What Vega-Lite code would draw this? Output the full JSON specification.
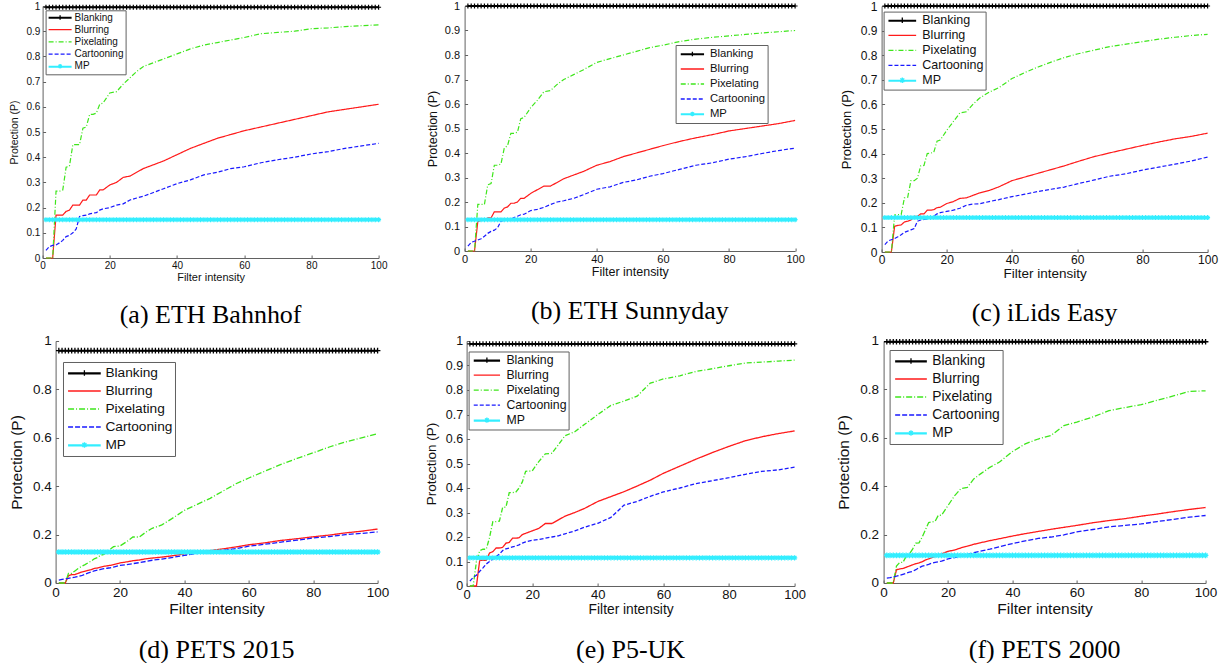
{
  "$schema": "https://vega.github.io/schema/vega-lite/v6.json",
  "background": "white",
  "padding": {"left": 8.6, "top": 0, "right": 0, "bottom": 0},
  "config": {
    "view": {"stroke": null},
    "axis": {
      "domainColor": "#606060", "tickColor": "#606060", "domainWidth": 1, "tickWidth": 1,
      "tickSize": -3, "grid": false, "labelFlush": false, "labelOverlap": false,
      "labelFont": "Liberation Sans", "titleFont": "Liberation Sans", "titleFontWeight": "normal",
      "labelColor": "#111", "titleColor": "#111"
    },
    "legend": {
      "strokeColor": "#606060", "fillColor": "#ffffff", "labelFont": "Liberation Sans",
      "labelColor": "#111", "rowPadding": 0, "symbolStrokeWidth": 1.3, "cornerRadius": 0, "labelLimit": 300
    },
    "title": {
      "font": "Liberation Serif", "fontSize": 26, "fontWeight": "normal", "color": "#000",
      "orient": "bottom", "anchor": "middle", "offset": 20
    }
  },
  "datasets": {
    "grid": [
      {"x":1,"k":0},{"x":2,"k":0},{"x":3,"k":0},{"x":4,"k":0},{"x":5,"k":0},{"x":6,"k":0},{"x":7,"k":0},{"x":8,"k":0},{"x":9,"k":0},{"x":10,"k":0},
      {"x":11,"k":0},{"x":12,"k":0},{"x":13,"k":0},{"x":14,"k":0},{"x":15,"k":0},{"x":16,"k":0},{"x":17,"k":0},{"x":18,"k":0},{"x":19,"k":0},{"x":20,"k":0},
      {"x":21,"k":0},{"x":22,"k":0},{"x":23,"k":0},{"x":24,"k":0},{"x":25,"k":0},{"x":26,"k":0},{"x":27,"k":0},{"x":28,"k":0},{"x":29,"k":0},{"x":30,"k":0},
      {"x":31,"k":0},{"x":32,"k":0},{"x":33,"k":0},{"x":34,"k":0},{"x":35,"k":0},{"x":36,"k":0},{"x":37,"k":0},{"x":38,"k":0},{"x":39,"k":0},{"x":40,"k":0},
      {"x":41,"k":0},{"x":42,"k":0},{"x":43,"k":0},{"x":44,"k":0},{"x":45,"k":0},{"x":46,"k":0},{"x":47,"k":0},{"x":48,"k":0},{"x":49,"k":0},{"x":50,"k":0},
      {"x":51,"k":0},{"x":52,"k":0},{"x":53,"k":0},{"x":54,"k":0},{"x":55,"k":0},{"x":56,"k":0},{"x":57,"k":0},{"x":58,"k":0},{"x":59,"k":0},{"x":60,"k":0},
      {"x":61,"k":0},{"x":62,"k":0},{"x":63,"k":0},{"x":64,"k":0},{"x":65,"k":0},{"x":66,"k":0},{"x":67,"k":0},{"x":68,"k":0},{"x":69,"k":0},{"x":70,"k":0},
      {"x":71,"k":0},{"x":72,"k":0},{"x":73,"k":0},{"x":74,"k":0},{"x":75,"k":0},{"x":76,"k":0},{"x":77,"k":0},{"x":78,"k":0},{"x":79,"k":0},{"x":80,"k":0},
      {"x":81,"k":0},{"x":82,"k":0},{"x":83,"k":0},{"x":84,"k":0},{"x":85,"k":0},{"x":86,"k":0},{"x":87,"k":0},{"x":88,"k":0},{"x":89,"k":0},{"x":90,"k":0},
      {"x":91,"k":0},{"x":92,"k":0},{"x":93,"k":0},{"x":94,"k":0},{"x":95,"k":0},{"x":96,"k":0},{"x":97,"k":0},{"x":98,"k":0},{"x":99,"k":0},{"x":100,"k":0}
    ],
    "lv_a": [{"k":0,"Blanking":0.995,"MP":0.152}],
    "lv_b": [{"k":0,"Blanking":1.0,"MP":0.128}],
    "lv_c": [{"k":0,"Blanking":1.0,"MP":0.14}],
    "lv_d": [{"k":0,"Blanking":0.96,"MP":0.128}],
    "lv_e": [{"k":0,"Blanking":0.988,"MP":0.115}],
    "lv_f": [{"k":0,"Blanking":0.997,"MP":0.114}],
    "cv_a": [
      {"x":1,"Blurring":0,"Pixelating":0,"Cartooning":0.03},
      {"x":2,"Blurring":0,"Pixelating":0,"Cartooning":0.045},
      {"x":3,"Blurring":0,"Pixelating":0,"Cartooning":0.05},
      {"x":4,"Blurring":0.17,"Pixelating":0.265,"Cartooning":0.052},
      {"x":5,"Blurring":0.17,"Pixelating":0.265,"Cartooning":0.06},
      {"x":6,"Blurring":0.17,"Pixelating":0.27,"Cartooning":0.07},
      {"x":7,"Blurring":0.185,"Pixelating":0.36,"Cartooning":0.085},
      {"x":8,"Blurring":0.19,"Pixelating":0.365,"Cartooning":0.09},
      {"x":9,"Blurring":0.21,"Pixelating":0.45,"Cartooning":0.1},
      {"x":10,"Blurring":0.21,"Pixelating":0.45,"Cartooning":0.115},
      {"x":11,"Blurring":0.21,"Pixelating":0.45,"Cartooning":0.165},
      {"x":12,"Blurring":0.23,"Pixelating":0.515,"Cartooning":0.168},
      {"x":13,"Blurring":0.23,"Pixelating":0.52,"Cartooning":0.17},
      {"x":14,"Blurring":0.25,"Pixelating":0.57,"Cartooning":0.175},
      {"x":15,"Blurring":0.25,"Pixelating":0.57,"Cartooning":0.178},
      {"x":16,"Blurring":0.25,"Pixelating":0.575,"Cartooning":0.18},
      {"x":17,"Blurring":0.27,"Pixelating":0.61,"Cartooning":0.19},
      {"x":18,"Blurring":0.27,"Pixelating":0.615,"Cartooning":0.195},
      {"x":20,"Blurring":0.29,"Pixelating":0.655,"Cartooning":0.2},
      {"x":22,"Blurring":0.3,"Pixelating":0.66,"Cartooning":0.21},
      {"x":24,"Blurring":0.32,"Pixelating":0.69,"Cartooning":0.215},
      {"x":26,"Blurring":0.325,"Pixelating":0.715,"Cartooning":0.23},
      {"x":28,"Blurring":0.34,"Pixelating":0.74,"Cartooning":0.238},
      {"x":30,"Blurring":0.355,"Pixelating":0.76,"Cartooning":0.245},
      {"x":33,"Blurring":0.37,"Pixelating":0.775,"Cartooning":0.26},
      {"x":36,"Blurring":0.385,"Pixelating":0.79,"Cartooning":0.275},
      {"x":40,"Blurring":0.41,"Pixelating":0.81,"Cartooning":0.295},
      {"x":44,"Blurring":0.435,"Pixelating":0.83,"Cartooning":0.31},
      {"x":48,"Blurring":0.455,"Pixelating":0.845,"Cartooning":0.33},
      {"x":52,"Blurring":0.475,"Pixelating":0.855,"Cartooning":0.34},
      {"x":56,"Blurring":0.49,"Pixelating":0.865,"Cartooning":0.355},
      {"x":60,"Blurring":0.505,"Pixelating":0.875,"Cartooning":0.362},
      {"x":65,"Blurring":0.52,"Pixelating":0.89,"Cartooning":0.378},
      {"x":70,"Blurring":0.535,"Pixelating":0.895,"Cartooning":0.39},
      {"x":75,"Blurring":0.55,"Pixelating":0.9,"Cartooning":0.4},
      {"x":80,"Blurring":0.565,"Pixelating":0.91,"Cartooning":0.413},
      {"x":85,"Blurring":0.58,"Pixelating":0.913,"Cartooning":0.422},
      {"x":90,"Blurring":0.59,"Pixelating":0.918,"Cartooning":0.435},
      {"x":95,"Blurring":0.6,"Pixelating":0.922,"Cartooning":0.445},
      {"x":100,"Blurring":0.61,"Pixelating":0.925,"Cartooning":0.455}
    ],
    "cv_b": [
      {"x":1,"Blurring":0,"Pixelating":0,"Cartooning":0.02},
      {"x":2,"Blurring":0,"Pixelating":0,"Cartooning":0.035},
      {"x":3,"Blurring":0,"Pixelating":0,"Cartooning":0.04},
      {"x":4,"Blurring":0.12,"Pixelating":0.19,"Cartooning":0.045},
      {"x":5,"Blurring":0.125,"Pixelating":0.19,"Cartooning":0.05},
      {"x":6,"Blurring":0.125,"Pixelating":0.19,"Cartooning":0.06},
      {"x":7,"Blurring":0.135,"Pixelating":0.27,"Cartooning":0.072},
      {"x":8,"Blurring":0.135,"Pixelating":0.275,"Cartooning":0.08},
      {"x":9,"Blurring":0.16,"Pixelating":0.35,"Cartooning":0.085},
      {"x":10,"Blurring":0.16,"Pixelating":0.35,"Cartooning":0.095},
      {"x":11,"Blurring":0.16,"Pixelating":0.355,"Cartooning":0.122},
      {"x":12,"Blurring":0.175,"Pixelating":0.42,"Cartooning":0.125},
      {"x":13,"Blurring":0.18,"Pixelating":0.43,"Cartooning":0.128},
      {"x":14,"Blurring":0.195,"Pixelating":0.48,"Cartooning":0.13},
      {"x":15,"Blurring":0.195,"Pixelating":0.48,"Cartooning":0.137},
      {"x":16,"Blurring":0.2,"Pixelating":0.485,"Cartooning":0.142},
      {"x":17,"Blurring":0.215,"Pixelating":0.54,"Cartooning":0.148},
      {"x":18,"Blurring":0.215,"Pixelating":0.545,"Cartooning":0.15},
      {"x":20,"Blurring":0.235,"Pixelating":0.585,"Cartooning":0.165},
      {"x":22,"Blurring":0.25,"Pixelating":0.615,"Cartooning":0.17},
      {"x":24,"Blurring":0.265,"Pixelating":0.65,"Cartooning":0.178},
      {"x":26,"Blurring":0.265,"Pixelating":0.655,"Cartooning":0.19},
      {"x":28,"Blurring":0.28,"Pixelating":0.68,"Cartooning":0.2},
      {"x":30,"Blurring":0.295,"Pixelating":0.7,"Cartooning":0.205},
      {"x":33,"Blurring":0.31,"Pixelating":0.72,"Cartooning":0.215},
      {"x":36,"Blurring":0.325,"Pixelating":0.74,"Cartooning":0.23},
      {"x":40,"Blurring":0.35,"Pixelating":0.77,"Cartooning":0.252},
      {"x":44,"Blurring":0.365,"Pixelating":0.785,"Cartooning":0.262},
      {"x":48,"Blurring":0.385,"Pixelating":0.8,"Cartooning":0.28},
      {"x":52,"Blurring":0.4,"Pixelating":0.815,"Cartooning":0.29},
      {"x":56,"Blurring":0.415,"Pixelating":0.83,"Cartooning":0.305},
      {"x":60,"Blurring":0.43,"Pixelating":0.84,"Cartooning":0.316},
      {"x":65,"Blurring":0.447,"Pixelating":0.855,"Cartooning":0.333},
      {"x":70,"Blurring":0.462,"Pixelating":0.865,"Cartooning":0.35},
      {"x":75,"Blurring":0.475,"Pixelating":0.872,"Cartooning":0.36},
      {"x":80,"Blurring":0.49,"Pixelating":0.878,"Cartooning":0.375},
      {"x":85,"Blurring":0.5,"Pixelating":0.884,"Cartooning":0.385},
      {"x":90,"Blurring":0.51,"Pixelating":0.89,"Cartooning":0.398},
      {"x":95,"Blurring":0.52,"Pixelating":0.895,"Cartooning":0.41},
      {"x":100,"Blurring":0.533,"Pixelating":0.9,"Cartooning":0.42}
    ],
    "cv_c": [
      {"x":1,"Blurring":0,"Pixelating":0,"Cartooning":0.03},
      {"x":2,"Blurring":0,"Pixelating":0,"Cartooning":0.045},
      {"x":3,"Blurring":0,"Pixelating":0,"Cartooning":0.05},
      {"x":4,"Blurring":0.105,"Pixelating":0.15,"Cartooning":0.055},
      {"x":5,"Blurring":0.108,"Pixelating":0.152,"Cartooning":0.062},
      {"x":6,"Blurring":0.11,"Pixelating":0.152,"Cartooning":0.07},
      {"x":7,"Blurring":0.122,"Pixelating":0.22,"Cartooning":0.08},
      {"x":8,"Blurring":0.125,"Pixelating":0.222,"Cartooning":0.085},
      {"x":9,"Blurring":0.13,"Pixelating":0.29,"Cartooning":0.09},
      {"x":10,"Blurring":0.145,"Pixelating":0.29,"Cartooning":0.095},
      {"x":11,"Blurring":0.145,"Pixelating":0.3,"Cartooning":0.125},
      {"x":12,"Blurring":0.155,"Pixelating":0.35,"Cartooning":0.13},
      {"x":13,"Blurring":0.155,"Pixelating":0.352,"Cartooning":0.132},
      {"x":14,"Blurring":0.17,"Pixelating":0.4,"Cartooning":0.135},
      {"x":15,"Blurring":0.17,"Pixelating":0.402,"Cartooning":0.14},
      {"x":16,"Blurring":0.172,"Pixelating":0.405,"Cartooning":0.145},
      {"x":17,"Blurring":0.18,"Pixelating":0.45,"Cartooning":0.155},
      {"x":18,"Blurring":0.182,"Pixelating":0.455,"Cartooning":0.16},
      {"x":20,"Blurring":0.197,"Pixelating":0.495,"Cartooning":0.165},
      {"x":22,"Blurring":0.205,"Pixelating":0.53,"Cartooning":0.17},
      {"x":24,"Blurring":0.218,"Pixelating":0.565,"Cartooning":0.178},
      {"x":26,"Blurring":0.22,"Pixelating":0.57,"Cartooning":0.19},
      {"x":28,"Blurring":0.23,"Pixelating":0.6,"Cartooning":0.195},
      {"x":30,"Blurring":0.24,"Pixelating":0.625,"Cartooning":0.196},
      {"x":33,"Blurring":0.25,"Pixelating":0.65,"Cartooning":0.205},
      {"x":36,"Blurring":0.265,"Pixelating":0.668,"Cartooning":0.213},
      {"x":40,"Blurring":0.29,"Pixelating":0.705,"Cartooning":0.225},
      {"x":44,"Blurring":0.305,"Pixelating":0.73,"Cartooning":0.235},
      {"x":48,"Blurring":0.32,"Pixelating":0.752,"Cartooning":0.246},
      {"x":52,"Blurring":0.335,"Pixelating":0.772,"Cartooning":0.255},
      {"x":56,"Blurring":0.35,"Pixelating":0.79,"Cartooning":0.264},
      {"x":60,"Blurring":0.367,"Pixelating":0.805,"Cartooning":0.277},
      {"x":65,"Blurring":0.387,"Pixelating":0.82,"Cartooning":0.292},
      {"x":70,"Blurring":0.403,"Pixelating":0.835,"Cartooning":0.308},
      {"x":75,"Blurring":0.418,"Pixelating":0.845,"Cartooning":0.318},
      {"x":80,"Blurring":0.433,"Pixelating":0.855,"Cartooning":0.333},
      {"x":85,"Blurring":0.447,"Pixelating":0.865,"Cartooning":0.345},
      {"x":90,"Blurring":0.46,"Pixelating":0.873,"Cartooning":0.357},
      {"x":95,"Blurring":0.47,"Pixelating":0.88,"Cartooning":0.37},
      {"x":100,"Blurring":0.483,"Pixelating":0.885,"Cartooning":0.386}
    ],
    "cv_d": [
      {"x":1,"Blurring":0,"Pixelating":0,"Cartooning":0.012},
      {"x":2,"Blurring":0,"Pixelating":0,"Cartooning":0.015},
      {"x":3,"Blurring":0,"Pixelating":0,"Cartooning":0.017},
      {"x":4,"Blurring":0.03,"Pixelating":0.04,"Cartooning":0.019},
      {"x":5,"Blurring":0.035,"Pixelating":0.04,"Cartooning":0.022},
      {"x":6,"Blurring":0.035,"Pixelating":0.05,"Cartooning":0.024},
      {"x":7,"Blurring":0.04,"Pixelating":0.06,"Cartooning":0.027},
      {"x":8,"Blurring":0.045,"Pixelating":0.068,"Cartooning":0.03},
      {"x":9,"Blurring":0.048,"Pixelating":0.075,"Cartooning":0.035},
      {"x":10,"Blurring":0.052,"Pixelating":0.083,"Cartooning":0.041},
      {"x":11,"Blurring":0.055,"Pixelating":0.09,"Cartooning":0.045},
      {"x":12,"Blurring":0.06,"Pixelating":0.1,"Cartooning":0.05},
      {"x":13,"Blurring":0.062,"Pixelating":0.105,"Cartooning":0.053},
      {"x":14,"Blurring":0.066,"Pixelating":0.115,"Cartooning":0.056},
      {"x":15,"Blurring":0.069,"Pixelating":0.118,"Cartooning":0.059},
      {"x":16,"Blurring":0.071,"Pixelating":0.13,"Cartooning":0.061},
      {"x":17,"Blurring":0.073,"Pixelating":0.14,"Cartooning":0.063},
      {"x":18,"Blurring":0.076,"Pixelating":0.15,"Cartooning":0.066},
      {"x":20,"Blurring":0.083,"Pixelating":0.153,"Cartooning":0.073},
      {"x":22,"Blurring":0.087,"Pixelating":0.17,"Cartooning":0.076},
      {"x":24,"Blurring":0.092,"Pixelating":0.19,"Cartooning":0.08},
      {"x":26,"Blurring":0.095,"Pixelating":0.19,"Cartooning":0.084},
      {"x":28,"Blurring":0.1,"Pixelating":0.21,"Cartooning":0.089},
      {"x":30,"Blurring":0.103,"Pixelating":0.226,"Cartooning":0.094},
      {"x":33,"Blurring":0.107,"Pixelating":0.24,"Cartooning":0.099},
      {"x":36,"Blurring":0.112,"Pixelating":0.265,"Cartooning":0.105},
      {"x":40,"Blurring":0.12,"Pixelating":0.3,"Cartooning":0.114},
      {"x":44,"Blurring":0.127,"Pixelating":0.325,"Cartooning":0.122},
      {"x":48,"Blurring":0.134,"Pixelating":0.35,"Cartooning":0.129},
      {"x":52,"Blurring":0.141,"Pixelating":0.38,"Cartooning":0.135},
      {"x":56,"Blurring":0.149,"Pixelating":0.41,"Cartooning":0.142},
      {"x":60,"Blurring":0.158,"Pixelating":0.434,"Cartooning":0.152},
      {"x":65,"Blurring":0.166,"Pixelating":0.462,"Cartooning":0.16},
      {"x":70,"Blurring":0.176,"Pixelating":0.49,"Cartooning":0.169},
      {"x":75,"Blurring":0.183,"Pixelating":0.515,"Cartooning":0.177},
      {"x":80,"Blurring":0.191,"Pixelating":0.538,"Cartooning":0.186},
      {"x":85,"Blurring":0.198,"Pixelating":0.562,"Cartooning":0.192},
      {"x":90,"Blurring":0.207,"Pixelating":0.583,"Cartooning":0.2},
      {"x":95,"Blurring":0.214,"Pixelating":0.6,"Cartooning":0.205},
      {"x":100,"Blurring":0.223,"Pixelating":0.617,"Cartooning":0.211}
    ],
    "cv_e": [
      {"x":1,"Blurring":0,"Pixelating":0,"Cartooning":0.02},
      {"x":2,"Blurring":0,"Pixelating":0,"Cartooning":0.035},
      {"x":3,"Blurring":0,"Pixelating":0.1,"Cartooning":0.044},
      {"x":4,"Blurring":0.105,"Pixelating":0.144,"Cartooning":0.06},
      {"x":5,"Blurring":0.105,"Pixelating":0.15,"Cartooning":0.074},
      {"x":6,"Blurring":0.105,"Pixelating":0.15,"Cartooning":0.09},
      {"x":7,"Blurring":0.135,"Pixelating":0.198,"Cartooning":0.1},
      {"x":8,"Blurring":0.14,"Pixelating":0.263,"Cartooning":0.11},
      {"x":9,"Blurring":0.155,"Pixelating":0.263,"Cartooning":0.12},
      {"x":10,"Blurring":0.155,"Pixelating":0.265,"Cartooning":0.13},
      {"x":11,"Blurring":0.158,"Pixelating":0.321,"Cartooning":0.145},
      {"x":12,"Blurring":0.175,"Pixelating":0.322,"Cartooning":0.152},
      {"x":13,"Blurring":0.178,"Pixelating":0.381,"Cartooning":0.155},
      {"x":14,"Blurring":0.195,"Pixelating":0.381,"Cartooning":0.16},
      {"x":15,"Blurring":0.195,"Pixelating":0.383,"Cartooning":0.163},
      {"x":16,"Blurring":0.197,"Pixelating":0.4,"Cartooning":0.168},
      {"x":17,"Blurring":0.21,"Pixelating":0.425,"Cartooning":0.175},
      {"x":18,"Blurring":0.215,"Pixelating":0.468,"Cartooning":0.18},
      {"x":20,"Blurring":0.225,"Pixelating":0.47,"Cartooning":0.187},
      {"x":22,"Blurring":0.235,"Pixelating":0.508,"Cartooning":0.19},
      {"x":24,"Blurring":0.255,"Pixelating":0.539,"Cartooning":0.195},
      {"x":26,"Blurring":0.255,"Pixelating":0.542,"Cartooning":0.2},
      {"x":28,"Blurring":0.27,"Pixelating":0.577,"Cartooning":0.205},
      {"x":30,"Blurring":0.285,"Pixelating":0.613,"Cartooning":0.213},
      {"x":33,"Blurring":0.3,"Pixelating":0.63,"Cartooning":0.225},
      {"x":36,"Blurring":0.317,"Pixelating":0.66,"Cartooning":0.24},
      {"x":40,"Blurring":0.345,"Pixelating":0.7,"Cartooning":0.256},
      {"x":44,"Blurring":0.365,"Pixelating":0.737,"Cartooning":0.28},
      {"x":48,"Blurring":0.385,"Pixelating":0.755,"Cartooning":0.33},
      {"x":52,"Blurring":0.408,"Pixelating":0.775,"Cartooning":0.345},
      {"x":56,"Blurring":0.432,"Pixelating":0.828,"Cartooning":0.366},
      {"x":60,"Blurring":0.46,"Pixelating":0.845,"Cartooning":0.384},
      {"x":65,"Blurring":0.489,"Pixelating":0.858,"Cartooning":0.4},
      {"x":70,"Blurring":0.518,"Pixelating":0.876,"Cartooning":0.418},
      {"x":75,"Blurring":0.545,"Pixelating":0.887,"Cartooning":0.43},
      {"x":80,"Blurring":0.57,"Pixelating":0.899,"Cartooning":0.442},
      {"x":85,"Blurring":0.593,"Pixelating":0.91,"Cartooning":0.456},
      {"x":90,"Blurring":0.609,"Pixelating":0.914,"Cartooning":0.468},
      {"x":95,"Blurring":0.622,"Pixelating":0.918,"Cartooning":0.474},
      {"x":100,"Blurring":0.633,"Pixelating":0.922,"Cartooning":0.485}
    ],
    "cv_f": [
      {"x":1,"Blurring":0,"Pixelating":0,"Cartooning":0.02},
      {"x":2,"Blurring":0,"Pixelating":0,"Cartooning":0.022},
      {"x":3,"Blurring":0,"Pixelating":0,"Cartooning":0.025},
      {"x":4,"Blurring":0.055,"Pixelating":0.07,"Cartooning":0.028},
      {"x":5,"Blurring":0.058,"Pixelating":0.085,"Cartooning":0.032},
      {"x":6,"Blurring":0.06,"Pixelating":0.085,"Cartooning":0.036},
      {"x":7,"Blurring":0.065,"Pixelating":0.11,"Cartooning":0.04},
      {"x":8,"Blurring":0.07,"Pixelating":0.12,"Cartooning":0.045},
      {"x":9,"Blurring":0.075,"Pixelating":0.14,"Cartooning":0.048},
      {"x":10,"Blurring":0.08,"Pixelating":0.165,"Cartooning":0.055},
      {"x":11,"Blurring":0.083,"Pixelating":0.166,"Cartooning":0.063},
      {"x":12,"Blurring":0.088,"Pixelating":0.19,"Cartooning":0.07},
      {"x":13,"Blurring":0.095,"Pixelating":0.22,"Cartooning":0.073},
      {"x":14,"Blurring":0.1,"Pixelating":0.25,"Cartooning":0.077},
      {"x":15,"Blurring":0.105,"Pixelating":0.252,"Cartooning":0.082},
      {"x":16,"Blurring":0.11,"Pixelating":0.255,"Cartooning":0.085},
      {"x":17,"Blurring":0.115,"Pixelating":0.28,"Cartooning":0.088},
      {"x":18,"Blurring":0.12,"Pixelating":0.28,"Cartooning":0.09},
      {"x":20,"Blurring":0.131,"Pixelating":0.32,"Cartooning":0.1},
      {"x":22,"Blurring":0.136,"Pixelating":0.36,"Cartooning":0.105},
      {"x":24,"Blurring":0.145,"Pixelating":0.39,"Cartooning":0.11},
      {"x":26,"Blurring":0.152,"Pixelating":0.395,"Cartooning":0.117},
      {"x":28,"Blurring":0.16,"Pixelating":0.43,"Cartooning":0.125},
      {"x":30,"Blurring":0.166,"Pixelating":0.45,"Cartooning":0.131},
      {"x":33,"Blurring":0.175,"Pixelating":0.478,"Cartooning":0.14},
      {"x":36,"Blurring":0.183,"Pixelating":0.5,"Cartooning":0.15},
      {"x":40,"Blurring":0.194,"Pixelating":0.543,"Cartooning":0.163},
      {"x":44,"Blurring":0.204,"Pixelating":0.575,"Cartooning":0.174},
      {"x":48,"Blurring":0.213,"Pixelating":0.595,"Cartooning":0.184},
      {"x":52,"Blurring":0.222,"Pixelating":0.61,"Cartooning":0.19},
      {"x":56,"Blurring":0.23,"Pixelating":0.65,"Cartooning":0.199},
      {"x":60,"Blurring":0.238,"Pixelating":0.665,"Cartooning":0.211},
      {"x":65,"Blurring":0.249,"Pixelating":0.686,"Cartooning":0.221},
      {"x":70,"Blurring":0.258,"Pixelating":0.712,"Cartooning":0.232},
      {"x":75,"Blurring":0.266,"Pixelating":0.725,"Cartooning":0.238},
      {"x":80,"Blurring":0.276,"Pixelating":0.737,"Cartooning":0.244},
      {"x":85,"Blurring":0.285,"Pixelating":0.755,"Cartooning":0.254},
      {"x":90,"Blurring":0.295,"Pixelating":0.773,"Cartooning":0.263},
      {"x":95,"Blurring":0.304,"Pixelating":0.792,"Cartooning":0.272},
      {"x":100,"Blurring":0.312,"Pixelating":0.794,"Cartooning":0.279}
    ]
  },
  "spacing": 6,
  "resolve": {
    "scale": {"color": "independent", "strokeDash": "independent"},
    "legend": {"color": "independent", "strokeDash": "independent"}
  },
  "vconcat": [
    {
      "bounds": "flush",
      "spacing": 86,
      "resolve": {
        "scale": {"color": "independent", "strokeDash": "independent"},
        "legend": {"color": "independent", "strokeDash": "independent"}
      },
      "hconcat": [
        {
          "width": 336, "height": 252,
          "title": {"text": "(a) ETH Bahnhof"},
          "encoding": {
            "x": {"field": "x", "type": "quantitative", "scale": {"domain": [0, 100], "nice": false},
                  "axis": {"title": "Filter intensity", "values": [0, 20, 40, 60, 80, 100], "labelFontSize": 10, "titleFontSize": 11, "labelPadding": 5, "titlePadding": 1}},
            "y": {"field": "y", "type": "quantitative", "scale": {"domain": [0, 1], "nice": false},
                  "axis": {"title": "Protection (P)", "values": [0, 0.1, 0.2, 0.3, 0.4, 0.5, 0.6, 0.7, 0.8, 0.9, 1], "format": "~g", "labelFontSize": 10, "titleFontSize": 10.5, "labelPadding": 5.7, "titlePadding": 6}}
          },
          "layer": [
            {
              "data": {"name": "cv_a"},
              "transform": [{"fold": ["Blurring", "Pixelating", "Cartooning"], "as": ["method", "y"]}],
              "mark": {"type": "line", "strokeWidth": 1.2},
              "encoding": {
                "color": {"field": "method", "type": "nominal",
                  "scale": {"domain": ["Blanking", "Blurring", "Pixelating", "Cartooning", "MP"], "range": ["#000000", "#ff1a1a", "#3fe61c", "#1a1aff", "#33eeff"]},
                  "legend": {"title": null, "orient": "none", "legendX": 3, "legendY": 4.3, "labelFontSize": 10, "symbolSize": 529, "clipHeight": 12, "padding": 1.2, "rowPadding": 0.2, "symbolOffset": 0.8, "labelOffset": 2,
                    "encode": {"symbols": {"update": {"shape": {"signal": "datum.value === 'Blanking' ? 'M-1,0H1M-1,0.06H1M0,-0.2V0.2' : datum.value === 'MP' ? 'M-1,0H1M-1,0.06H1M0,-0.2V0.2M-0.2,0H0.2M-0.14,-0.14L0.14,0.14M-0.14,0.14L0.14,-0.14' : 'M-1,0H1'"}}}}}},
                "strokeDash": {"field": "method", "type": "nominal",
                  "scale": {"domain": ["Blanking", "Blurring", "Pixelating", "Cartooning", "MP"], "range": [[1, 0], [1, 0], [5, 2, 1, 2], [4, 2], [1, 0]]},
                  "legend": {"title": null, "orient": "none", "legendX": 3, "legendY": 4.3, "labelFontSize": 10, "symbolSize": 529, "clipHeight": 12, "padding": 1.2, "rowPadding": 0.2, "symbolOffset": 0.8, "labelOffset": 2}}
              }
            },
            {
              "data": {"name": "grid"},
              "transform": [
                {"lookup": "k", "from": {"data": {"name": "lv_a"}, "key": "k", "fields": ["Blanking", "MP"]}},
                {"fold": ["Blanking", "MP"], "as": ["method", "y"]}
              ],
              "layer": [
                {"mark": {"type": "line", "strokeWidth": 2},
                 "encoding": {"color": {"field": "method", "type": "nominal", "scale": {"domain": ["Blanking", "Blurring", "Pixelating", "Cartooning", "MP"], "range": ["#000000", "#ff1a1a", "#3fe61c", "#1a1aff", "#33eeff"]}, "legend": null}, "detail": {"field": "method"}}},
                {"mark": {"type": "point", "filled": false, "size": 25, "strokeWidth": 1.2, "opacity": 1},
                 "encoding": {"color": {"field": "method", "type": "nominal", "scale": {"domain": ["Blanking", "Blurring", "Pixelating", "Cartooning", "MP"], "range": ["#000000", "#ff1a1a", "#3fe61c", "#1a1aff", "#33eeff"]}, "legend": null},
                   "shape": {"field": "method", "type": "nominal", "scale": {"domain": ["Blanking", "MP"], "range": ["M-1,0H1M0,-1V1", "M-1,0H1M0,-1V1M-0.7,-0.7L0.7,0.7M-0.7,0.7L0.7,-0.7"]}, "legend": null}}}
              ]
            }
          ]
        },
        {
          "width": 330.5, "height": 245,
          "title": {"text": "(b) ETH Sunnyday"},
          "encoding": {
            "x": {"field": "x", "type": "quantitative", "scale": {"domain": [0, 100], "nice": false},
                  "axis": {"title": "Filter intensity", "values": [0, 20, 40, 60, 80, 100], "labelFontSize": 11, "titleFontSize": 12.5, "labelPadding": 5, "titlePadding": 1}},
            "y": {"field": "y", "type": "quantitative", "scale": {"domain": [0, 1], "nice": false},
                  "axis": {"title": "Protection (P)", "values": [0, 0.1, 0.2, 0.3, 0.4, 0.5, 0.6, 0.7, 0.8, 0.9, 1], "format": "~g", "labelFontSize": 11, "titleFontSize": 12.5, "labelPadding": 8, "titlePadding": 5}}
          },
          "layer": [
            {
              "data": {"name": "cv_b"},
              "transform": [{"fold": ["Blurring", "Pixelating", "Cartooning"], "as": ["method", "y"]}],
              "mark": {"type": "line", "strokeWidth": 1.2},
              "encoding": {
                "color": {"field": "method", "type": "nominal",
                  "scale": {"domain": ["Blanking", "Blurring", "Pixelating", "Cartooning", "MP"], "range": ["#000000", "#ff1a1a", "#3fe61c", "#1a1aff", "#33eeff"]},
                  "legend": {"title": null, "orient": "none", "legendX": 211, "legendY": 39, "labelFontSize": 11.3, "symbolSize": 543, "clipHeight": 14.6, "padding": 1.7, "symbolOffset": 2.6, "labelOffset": 5,
                    "encode": {"symbols": {"update": {"shape": {"signal": "datum.value === 'Blanking' ? 'M-1,0H1M-1,0.06H1M0,-0.2V0.2' : datum.value === 'MP' ? 'M-1,0H1M-1,0.06H1M0,-0.2V0.2M-0.2,0H0.2M-0.14,-0.14L0.14,0.14M-0.14,0.14L0.14,-0.14' : 'M-1,0H1'"}}}}}},
                "strokeDash": {"field": "method", "type": "nominal",
                  "scale": {"domain": ["Blanking", "Blurring", "Pixelating", "Cartooning", "MP"], "range": [[1, 0], [1, 0], [5, 2, 1, 2], [4, 2], [1, 0]]},
                  "legend": {"title": null, "orient": "none", "legendX": 211, "legendY": 39, "labelFontSize": 11.3, "symbolSize": 543, "clipHeight": 14.6, "padding": 1.7, "symbolOffset": 2.6, "labelOffset": 5}}
              }
            },
            {
              "data": {"name": "grid"},
              "transform": [
                {"lookup": "k", "from": {"data": {"name": "lv_b"}, "key": "k", "fields": ["Blanking", "MP"]}},
                {"fold": ["Blanking", "MP"], "as": ["method", "y"]}
              ],
              "layer": [
                {"mark": {"type": "line", "strokeWidth": 2},
                 "encoding": {"color": {"field": "method", "type": "nominal", "scale": {"domain": ["Blanking", "Blurring", "Pixelating", "Cartooning", "MP"], "range": ["#000000", "#ff1a1a", "#3fe61c", "#1a1aff", "#33eeff"]}, "legend": null}, "detail": {"field": "method"}}},
                {"mark": {"type": "point", "filled": false, "size": 25, "strokeWidth": 1.2, "opacity": 1},
                 "encoding": {"color": {"field": "method", "type": "nominal", "scale": {"domain": ["Blanking", "Blurring", "Pixelating", "Cartooning", "MP"], "range": ["#000000", "#ff1a1a", "#3fe61c", "#1a1aff", "#33eeff"]}, "legend": null},
                   "shape": {"field": "method", "type": "nominal", "scale": {"domain": ["Blanking", "MP"], "range": ["M-1,0H1M0,-1V1", "M-1,0H1M0,-1V1M-0.7,-0.7L0.7,0.7M-0.7,0.7L0.7,-0.7"]}, "legend": null}}}
              ]
            }
          ]
        },
        {
          "width": 326, "height": 246,
          "title": {"text": "(c) iLids Easy"},
          "encoding": {
            "x": {"field": "x", "type": "quantitative", "scale": {"domain": [0, 100], "nice": false},
                  "axis": {"title": "Filter intensity", "values": [0, 20, 40, 60, 80, 100], "labelFontSize": 12, "titleFontSize": 13.5, "labelPadding": 5, "titlePadding": 1}},
            "y": {"field": "y", "type": "quantitative", "scale": {"domain": [0, 1], "nice": false},
                  "axis": {"title": "Protection (P)", "values": [0, 0.1, 0.2, 0.3, 0.4, 0.5, 0.6, 0.7, 0.8, 0.9, 1], "format": "~g", "labelFontSize": 12, "titleFontSize": 13, "labelPadding": 7.6, "titlePadding": 7}}
          },
          "layer": [
            {
              "data": {"name": "cv_c"},
              "transform": [{"fold": ["Blurring", "Pixelating", "Cartooning"], "as": ["method", "y"]}],
              "mark": {"type": "line", "strokeWidth": 1.2},
              "encoding": {
                "color": {"field": "method", "type": "nominal",
                  "scale": {"domain": ["Blanking", "Blurring", "Pixelating", "Cartooning", "MP"], "range": ["#000000", "#ff1a1a", "#3fe61c", "#1a1aff", "#33eeff"]},
                  "legend": {"title": null, "orient": "none", "legendX": 2, "legendY": 5.6, "labelFontSize": 12.5, "symbolSize": 767, "clipHeight": 15, "padding": 1.2, "symbolOffset": 3, "labelOffset": 5.5,
                    "encode": {"symbols": {"update": {"shape": {"signal": "datum.value === 'Blanking' ? 'M-1,0H1M-1,0.06H1M0,-0.2V0.2' : datum.value === 'MP' ? 'M-1,0H1M-1,0.06H1M0,-0.2V0.2M-0.2,0H0.2M-0.14,-0.14L0.14,0.14M-0.14,0.14L0.14,-0.14' : 'M-1,0H1'"}}}}}},
                "strokeDash": {"field": "method", "type": "nominal",
                  "scale": {"domain": ["Blanking", "Blurring", "Pixelating", "Cartooning", "MP"], "range": [[1, 0], [1, 0], [5, 2, 1, 2], [4, 2], [1, 0]]},
                  "legend": {"title": null, "orient": "none", "legendX": 2, "legendY": 5.6, "labelFontSize": 12.5, "symbolSize": 767, "clipHeight": 15, "padding": 1.2, "symbolOffset": 3, "labelOffset": 5.5}}
              }
            },
            {
              "data": {"name": "grid"},
              "transform": [
                {"lookup": "k", "from": {"data": {"name": "lv_c"}, "key": "k", "fields": ["Blanking", "MP"]}},
                {"fold": ["Blanking", "MP"], "as": ["method", "y"]}
              ],
              "layer": [
                {"mark": {"type": "line", "strokeWidth": 2},
                 "encoding": {"color": {"field": "method", "type": "nominal", "scale": {"domain": ["Blanking", "Blurring", "Pixelating", "Cartooning", "MP"], "range": ["#000000", "#ff1a1a", "#3fe61c", "#1a1aff", "#33eeff"]}, "legend": null}, "detail": {"field": "method"}}},
                {"mark": {"type": "point", "filled": false, "size": 25, "strokeWidth": 1.2, "opacity": 1},
                 "encoding": {"color": {"field": "method", "type": "nominal", "scale": {"domain": ["Blanking", "Blurring", "Pixelating", "Cartooning", "MP"], "range": ["#000000", "#ff1a1a", "#3fe61c", "#1a1aff", "#33eeff"]}, "legend": null},
                   "shape": {"field": "method", "type": "nominal", "scale": {"domain": ["Blanking", "MP"], "range": ["M-1,0H1M0,-1V1", "M-1,0H1M0,-1V1M-0.7,-0.7L0.7,0.7M-0.7,0.7L0.7,-0.7"]}, "legend": null}}}
              ]
            }
          ]
        }
      ]
    },
    {
      "bounds": "flush",
      "spacing": 0,
      "resolve": {
        "scale": {"color": "independent", "strokeDash": "independent"},
        "legend": {"color": "independent", "strokeDash": "independent"}
      },
      "hconcat": [
        {
          "width": 12.6, "height": 1,
          "data": {"values": []},
          "mark": {"type": "point", "opacity": 0}
        },
        {
          "bounds": "flush",
          "spacing": 89,
          "resolve": {
            "scale": {"color": "independent", "strokeDash": "independent"},
            "legend": {"color": "independent", "strokeDash": "independent"}
          },
          "hconcat": [
            {
              "width": 322, "height": 242,
              "title": {"text": "(d) PETS 2015"},
              "encoding": {
                "x": {"field": "x", "type": "quantitative", "scale": {"domain": [0, 100], "nice": false},
                      "axis": {"title": "Filter intensity", "values": [0, 20, 40, 60, 80, 100], "labelFontSize": 13.5, "titleFontSize": 15.5, "labelPadding": 6, "titlePadding": 2}},
                "y": {"field": "y", "type": "quantitative", "scale": {"domain": [0, 1], "nice": false},
                      "axis": {"title": "Protection (P)", "values": [0, 0.2, 0.4, 0.6, 0.8, 1], "format": "~g", "labelFontSize": 13.5, "titleFontSize": 15.5, "labelPadding": 7.3, "titlePadding": 8}}
              },
              "layer": [
                {
                  "data": {"name": "cv_d"},
                  "transform": [{"fold": ["Blurring", "Pixelating", "Cartooning"], "as": ["method", "y"]}],
                  "mark": {"type": "line", "strokeWidth": 1.3},
                  "encoding": {
                    "color": {"field": "method", "type": "nominal",
                      "scale": {"domain": ["Blanking", "Blurring", "Pixelating", "Cartooning", "MP"], "range": ["#000000", "#ff1a1a", "#3fe61c", "#1a1aff", "#33eeff"]},
                      "legend": {"title": null, "orient": "none", "legendX": 7.4, "legendY": 21, "labelFontSize": 13.7, "symbolSize": 1069, "clipHeight": 17.8, "padding": 2.1, "symbolOffset": 2.3, "labelOffset": 4,
                        "encode": {"symbols": {"update": {"shape": {"signal": "datum.value === 'Blanking' ? 'M-1,0H1M-1,0.05H1M0,-0.17V0.17' : datum.value === 'MP' ? 'M-1,0H1M-1,0.05H1M0,-0.17V0.17M-0.17,0H0.17M-0.12,-0.12L0.12,0.12M-0.12,0.12L0.12,-0.12' : 'M-1,0H1'"}}}}}},
                    "strokeDash": {"field": "method", "type": "nominal",
                      "scale": {"domain": ["Blanking", "Blurring", "Pixelating", "Cartooning", "MP"], "range": [[1, 0], [1, 0], [6, 2, 1, 2], [5, 2], [1, 0]]},
                      "legend": {"title": null, "orient": "none", "legendX": 7.4, "legendY": 21, "labelFontSize": 13.7, "symbolSize": 1069, "clipHeight": 17.8, "padding": 2.1, "symbolOffset": 2.3, "labelOffset": 4}}
                  }
                },
                {
                  "data": {"name": "grid"},
                  "transform": [
                    {"lookup": "k", "from": {"data": {"name": "lv_d"}, "key": "k", "fields": ["Blanking", "MP"]}},
                    {"fold": ["Blanking", "MP"], "as": ["method", "y"]}
                  ],
                  "layer": [
                    {"mark": {"type": "line", "strokeWidth": 2},
                     "encoding": {"color": {"field": "method", "type": "nominal", "scale": {"domain": ["Blanking", "Blurring", "Pixelating", "Cartooning", "MP"], "range": ["#000000", "#ff1a1a", "#3fe61c", "#1a1aff", "#33eeff"]}, "legend": null}, "detail": {"field": "method"}}},
                    {"mark": {"type": "point", "filled": false, "size": 32, "strokeWidth": 1.3, "opacity": 1},
                     "encoding": {"color": {"field": "method", "type": "nominal", "scale": {"domain": ["Blanking", "Blurring", "Pixelating", "Cartooning", "MP"], "range": ["#000000", "#ff1a1a", "#3fe61c", "#1a1aff", "#33eeff"]}, "legend": null},
                       "shape": {"field": "method", "type": "nominal", "scale": {"domain": ["Blanking", "MP"], "range": ["M-1,0H1M0,-1V1", "M-1,0H1M0,-1V1M-0.7,-0.7L0.7,0.7M-0.7,0.7L0.7,-0.7"]}, "legend": null}}}
                  ]
                }
              ]
            },
            {
              "width": 328, "height": 245,
              "title": {"text": "(e) P5-UK"},
              "encoding": {
                "x": {"field": "x", "type": "quantitative", "scale": {"domain": [0, 100], "nice": false},
                      "axis": {"title": "Filter intensity", "values": [0, 20, 40, 60, 80, 100], "labelFontSize": 13, "titleFontSize": 13.8, "labelPadding": 6, "titlePadding": 1}},
                "y": {"field": "y", "type": "quantitative", "scale": {"domain": [0, 1], "nice": false},
                      "axis": {"title": "Protection (P)", "values": [0, 0.1, 0.2, 0.3, 0.4, 0.5, 0.6, 0.7, 0.8, 0.9, 1], "format": "~g", "labelFontSize": 12.5, "titleFontSize": 13.5, "labelPadding": 7, "titlePadding": 7}}
              },
              "layer": [
                {
                  "data": {"name": "cv_e"},
                  "transform": [{"fold": ["Blurring", "Pixelating", "Cartooning"], "as": ["method", "y"]}],
                  "mark": {"type": "line", "strokeWidth": 1.3},
                  "encoding": {
                    "color": {"field": "method", "type": "nominal",
                      "scale": {"domain": ["Blanking", "Blurring", "Pixelating", "Cartooning", "MP"], "range": ["#000000", "#ff1a1a", "#3fe61c", "#1a1aff", "#33eeff"]},
                      "legend": {"title": null, "orient": "none", "legendX": 2, "legendY": 10.5, "labelFontSize": 12.3, "symbolSize": 692, "clipHeight": 15, "padding": 1.2, "symbolOffset": 3.1, "labelOffset": 5.5,
                        "encode": {"symbols": {"update": {"shape": {"signal": "datum.value === 'Blanking' ? 'M-1,0H1M-1,0.06H1M0,-0.2V0.2' : datum.value === 'MP' ? 'M-1,0H1M-1,0.06H1M0,-0.2V0.2M-0.2,0H0.2M-0.14,-0.14L0.14,0.14M-0.14,0.14L0.14,-0.14' : 'M-1,0H1'"}}}}}},
                    "strokeDash": {"field": "method", "type": "nominal",
                      "scale": {"domain": ["Blanking", "Blurring", "Pixelating", "Cartooning", "MP"], "range": [[1, 0], [1, 0], [5, 2, 1, 2], [4, 2], [1, 0]]},
                      "legend": {"title": null, "orient": "none", "legendX": 2, "legendY": 10.5, "labelFontSize": 12.3, "symbolSize": 692, "clipHeight": 15, "padding": 1.2, "symbolOffset": 3.1, "labelOffset": 5.5}}
                  }
                },
                {
                  "data": {"name": "grid"},
                  "transform": [
                    {"lookup": "k", "from": {"data": {"name": "lv_e"}, "key": "k", "fields": ["Blanking", "MP"]}},
                    {"fold": ["Blanking", "MP"], "as": ["method", "y"]}
                  ],
                  "layer": [
                    {"mark": {"type": "line", "strokeWidth": 2},
                     "encoding": {"color": {"field": "method", "type": "nominal", "scale": {"domain": ["Blanking", "Blurring", "Pixelating", "Cartooning", "MP"], "range": ["#000000", "#ff1a1a", "#3fe61c", "#1a1aff", "#33eeff"]}, "legend": null}, "detail": {"field": "method"}}},
                    {"mark": {"type": "point", "filled": false, "size": 28, "strokeWidth": 1.2, "opacity": 1},
                     "encoding": {"color": {"field": "method", "type": "nominal", "scale": {"domain": ["Blanking", "Blurring", "Pixelating", "Cartooning", "MP"], "range": ["#000000", "#ff1a1a", "#3fe61c", "#1a1aff", "#33eeff"]}, "legend": null},
                       "shape": {"field": "method", "type": "nominal", "scale": {"domain": ["Blanking", "MP"], "range": ["M-1,0H1M0,-1V1", "M-1,0H1M0,-1V1M-0.7,-0.7L0.7,0.7M-0.7,0.7L0.7,-0.7"]}, "legend": null}}}
                  ]
                }
              ]
            },
            {
              "width": 322, "height": 242,
              "title": {"text": "(f) PETS 2000"},
              "encoding": {
                "x": {"field": "x", "type": "quantitative", "scale": {"domain": [0, 100], "nice": false},
                      "axis": {"title": "Filter intensity", "values": [0, 20, 40, 60, 80, 100], "labelFontSize": 13.5, "titleFontSize": 15.5, "labelPadding": 6, "titlePadding": 2}},
                "y": {"field": "y", "type": "quantitative", "scale": {"domain": [0, 1], "nice": false},
                      "axis": {"title": "Protection (P)", "values": [0, 0.2, 0.4, 0.6, 0.8, 1], "format": "~g", "labelFontSize": 13.5, "titleFontSize": 15.5, "labelPadding": 8, "titlePadding": 8}}
              },
              "layer": [
                {
                  "data": {"name": "cv_f"},
                  "transform": [{"fold": ["Blurring", "Pixelating", "Cartooning"], "as": ["method", "y"]}],
                  "mark": {"type": "line", "strokeWidth": 1.3},
                  "encoding": {
                    "color": {"field": "method", "type": "nominal",
                      "scale": {"domain": ["Blanking", "Blurring", "Pixelating", "Cartooning", "MP"], "range": ["#000000", "#ff1a1a", "#3fe61c", "#1a1aff", "#33eeff"]},
                      "legend": {"title": null, "orient": "none", "legendX": 6, "legendY": 9, "labelFontSize": 13.8, "symbolSize": 1005, "clipHeight": 17.8, "padding": 2.1, "symbolOffset": 2.3, "labelOffset": 4.3,
                        "encode": {"symbols": {"update": {"shape": {"signal": "datum.value === 'Blanking' ? 'M-1,0H1M-1,0.05H1M0,-0.17V0.17' : datum.value === 'MP' ? 'M-1,0H1M-1,0.05H1M0,-0.17V0.17M-0.17,0H0.17M-0.12,-0.12L0.12,0.12M-0.12,0.12L0.12,-0.12' : 'M-1,0H1'"}}}}}},
                    "strokeDash": {"field": "method", "type": "nominal",
                      "scale": {"domain": ["Blanking", "Blurring", "Pixelating", "Cartooning", "MP"], "range": [[1, 0], [1, 0], [6, 2, 1, 2], [5, 2], [1, 0]]},
                      "legend": {"title": null, "orient": "none", "legendX": 6, "legendY": 9, "labelFontSize": 13.8, "symbolSize": 1005, "clipHeight": 17.8, "padding": 2.1, "symbolOffset": 2.3, "labelOffset": 4.3}}
                  }
                },
                {
                  "data": {"name": "grid"},
                  "transform": [
                    {"lookup": "k", "from": {"data": {"name": "lv_f"}, "key": "k", "fields": ["Blanking", "MP"]}},
                    {"fold": ["Blanking", "MP"], "as": ["method", "y"]}
                  ],
                  "layer": [
                    {"mark": {"type": "line", "strokeWidth": 2},
                     "encoding": {"color": {"field": "method", "type": "nominal", "scale": {"domain": ["Blanking", "Blurring", "Pixelating", "Cartooning", "MP"], "range": ["#000000", "#ff1a1a", "#3fe61c", "#1a1aff", "#33eeff"]}, "legend": null}, "detail": {"field": "method"}}},
                    {"mark": {"type": "point", "filled": false, "size": 32, "strokeWidth": 1.3, "opacity": 1},
                     "encoding": {"color": {"field": "method", "type": "nominal", "scale": {"domain": ["Blanking", "Blurring", "Pixelating", "Cartooning", "MP"], "range": ["#000000", "#ff1a1a", "#3fe61c", "#1a1aff", "#33eeff"]}, "legend": null},
                       "shape": {"field": "method", "type": "nominal", "scale": {"domain": ["Blanking", "MP"], "range": ["M-1,0H1M0,-1V1", "M-1,0H1M0,-1V1M-0.7,-0.7L0.7,0.7M-0.7,0.7L0.7,-0.7"]}, "legend": null}}}
                  ]
                }
              ]
            }
          ]
        }
      ]
    }
  ]
}
